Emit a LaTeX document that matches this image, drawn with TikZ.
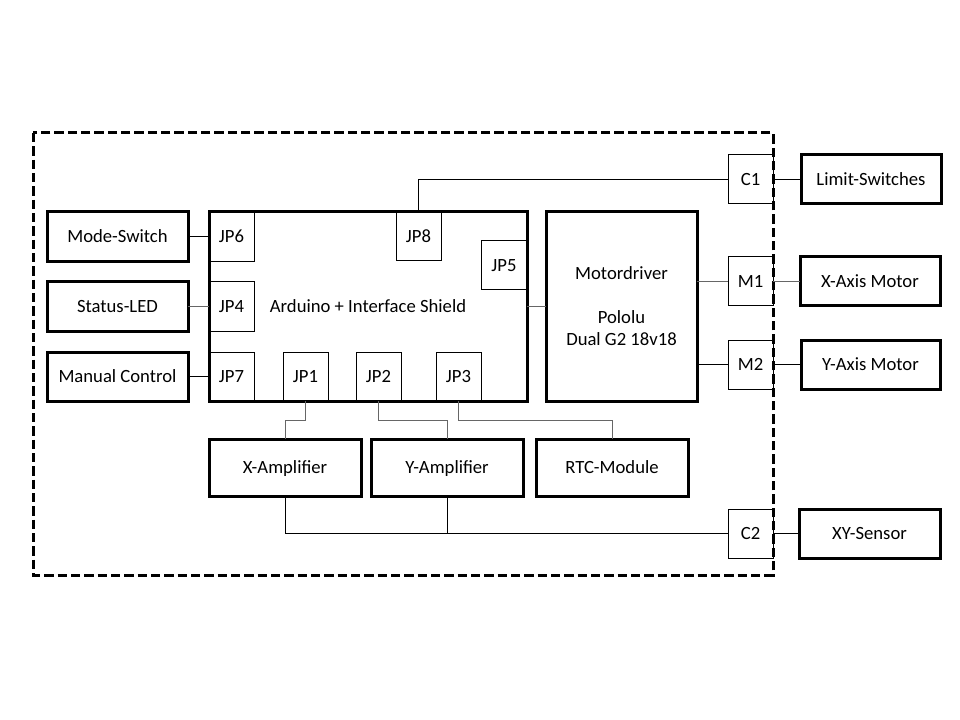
\documentclass[tikz,border=0pt]{standalone}
\usepackage{fontspec}
\setmainfont{Carlito}
\newcommand\bx[7]{\node[#6, minimum width={(#4-#2)*0.75pt}, minimum height={(#5-#3)*0.75pt}] (#1) at ({(#2+#4)/2},{(#3+#5)/2}) {#7};}
\begin{document}
\begin{tikzpicture}[x=0.75pt,y=-0.75pt,
  every node/.style={font=\fontsize{14}{16.5}\selectfont, inner sep=0pt, outer sep=0pt},
  txt/.style={text height=10pt, text depth=1pt},
  big/.style={draw, line width=2.25pt, txt},
  small/.style={draw, line width=0.75pt, txt},
  mdbox/.style={draw, line width=2.25pt, align=center},
  wire/.style={draw, line width=0.75pt},
  gwire/.style={draw=black!60, line width=0.75pt},
  frame/.style={draw, line width=2.25pt, dash pattern=on 7pt off 3pt}]
\useasboundingbox (0,0) rectangle (960,720);
\draw[frame] (33,133) rectangle (773,575);
% left column
\bx{MS}{47}{212}{188}{262}{big}{Mode-Switch}
\bx{SL}{47}{282}{188}{331}{big}{Status-LED}
\bx{MC}{47}{352}{188}{401}{big}{Manual Control}
% connectors on Arduino
\bx{JP6}{209}{212}{254}{262}{small}{JP6}
\bx{JP4}{209}{282}{254}{331}{small}{JP4}
\bx{JP7}{209}{352}{254}{401}{small}{JP7}
\bx{JP1}{283}{352}{328}{401}{small}{JP1}
\bx{JP2}{356}{352}{401}{401}{small}{JP2}
\bx{JP3}{436}{352}{481}{401}{small}{JP3}
\bx{JP8}{396}{212}{441}{261}{small}{JP8}
\bx{JP5}{481}{241}{527}{290}{small}{JP5}
\bx{Ard}{209}{212}{527}{401}{big}{Arduino + Interface Shield}
\bx{MD}{546}{212}{697}{401}{mdbox}{Motordriver\\ \\Pololu\\Dual G2 18v18}
% outer connectors
\bx{C1}{728}{155}{773}{204}{small}{C1}
\bx{M1}{728}{257}{773}{306}{small}{M1}
\bx{M2}{728}{340}{773}{389}{small}{M2}
\bx{C2}{728}{509}{773}{558}{small}{C2}
% external
\bx{LS}{801}{155}{941}{204}{big}{Limit-Switches}
\bx{XM}{800}{257}{940}{306}{big}{X-Axis Motor}
\bx{YM}{801}{340}{940}{389}{big}{Y-Axis Motor}
\bx{XY}{799}{509}{940}{558}{big}{XY-Sensor}
% bottom modules
\bx{XA}{209}{439}{361}{496}{big}{X-Amplifier}
\bx{YA}{371}{439}{523}{496}{big}{Y-Amplifier}
\bx{RTC}{536}{439}{688}{496}{big}{RTC-Module}
% wires
\draw[wire] (MS.east) -- (JP6.west);
\draw[gwire] (SL.east) -- (JP4.west);
\draw[wire] (MC.east) -- (JP7.west);
\draw[wire] (JP8.north) |- (C1.west);
\draw[wire] (C1.east) -- (LS.west);
\draw[gwire] (Ard.east) -- (MD.west);
\draw[gwire] (M1.west -| MD.east) -- (M1.west);
\draw[gwire] (M1.east) -- (XM.west);
\draw[wire] (M2.west -| MD.east) -- (M2.west);
\draw[wire] (M2.east) -- (YM.west);
\draw[gwire] (JP1.south) -- ++(0,19) -| (XA.north);
\draw[gwire] (JP2.south) -- ++(0,19) -| (YA.north);
\draw[gwire] (JP3.south) -- ++(0,19) -| (RTC.north);
\draw[wire] (XA.south) |- (C2.west);
\draw[wire] (YA.south) -- (YA.south |- C2.west);
\draw[wire] (C2.east) -- (XY.west);
\end{tikzpicture}
\end{document}
